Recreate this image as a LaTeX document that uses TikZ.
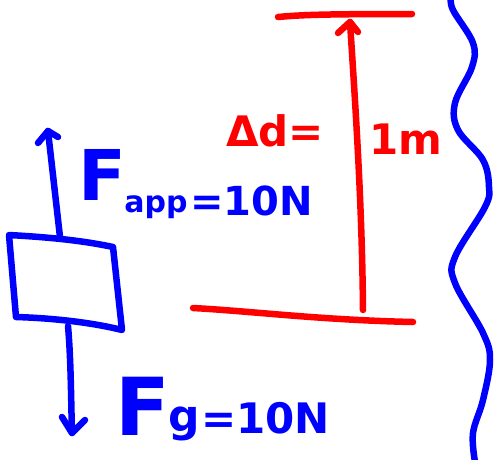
\documentclass[tikz,border=0pt]{standalone}
\usepackage{fontspec}
\setmainfont{DejaVu Sans}
\usetikzlibrary{calc}
\definecolor{penblue}{RGB}{0,0,255}
\definecolor{penred}{RGB}{255,0,0}
\begin{document}
\begin{tikzpicture}[x=1pt,y=-1pt,
  pen/.style={line width=6.5pt,line cap=round,line join=round},
  bluepen/.style={pen,draw=penblue},
  redpen/.style={pen,draw=penred},
  lbl/.style={inner sep=0pt,anchor=base west}]
\useasboundingbox (0,0) rectangle (499,459);
% block
\coordinate (b1) at (9,235);
\coordinate (b2) at (113,247);
\coordinate (b3) at (122,330);
\coordinate (b4) at (16,317);
\draw[bluepen] (b1) .. controls (45,237) and (80,240) .. (b2) -- (b3) .. controls (90,322) and (50,318) .. (b4) -- cycle;
% up arrow
\coordinate (upTail) at (60,237);
\coordinate (upTip) at (48,131);
\draw[bluepen] (upTail) -- (upTip);
\draw[bluepen] ($(upTip)+(-10,12)$) -- (upTip) -- ($(upTip)+(10,6)$);
% down arrow
\coordinate (dnTail) at (68,326);
\coordinate (dnTip) at (72,433);
\draw[bluepen] (dnTail) .. controls (71,360) and (71,400) .. (dnTip);
\draw[bluepen] ($(dnTip)+(-10,-16)$) -- (dnTip) -- ($(dnTip)+(13,-13)$);
% labels
\node[lbl,text=penblue,font=\bfseries\fontsize{70}{70}\selectfont] (fapp) at (78,200) {F};
\node[lbl,text=penblue,font=\bfseries\fontsize{30}{30}\selectfont] (app) at ($(fapp.base east)+(-2,12)$) {app};
\node[lbl,text=penblue,font=\bfseries\fontsize{40}{40}\selectfont] (eqa) at ($(app.base east)+(2,3)$) {=10N};
\node[lbl,text=penblue,font=\bfseries\fontsize{80}{80}\selectfont] (fg) at (115,435) {F};
\node[lbl,text=penblue,font=\bfseries\fontsize{44}{44}\selectfont] (g) at ($(fg.base east)+(-2,-4)$) {g};
\node[lbl,text=penblue,font=\bfseries\fontsize{42}{42}\selectfont] (eqg) at ($(g.base east)+(1,2)$) {=10N};
% red distance
\coordinate (tL) at (278,17);
\coordinate (tR) at (412,14);
\draw[redpen] (tL) .. controls (300,15) and (320,14) .. (tR);
\coordinate (bL) at (193,308);
\coordinate (bR) at (413,322);
\draw[redpen] (bL) .. controls (250,311) and (320,320) .. (bR);
\coordinate (rTail) at (363,310);
\coordinate (rTip) at (350,22);
\draw[redpen] (rTail) .. controls (362,200) and (355,100) .. (rTip);
\draw[redpen] ($(rTip)+(-12,11)$) -- (rTip) -- ($(rTip)+(8,10)$);
\node[lbl,text=penred,font=\bfseries\fontsize{42}{42}\selectfont] (dd) at (226,146) {Δd=};
\node[lbl,text=penred,font=\bfseries\fontsize{42}{42}\selectfont] (m) at (369,154) {1m};
% wavy line
\draw[bluepen] plot[smooth,tension=0.6] coordinates {(451,-3) (453,10) (473,43) (472,67) (455,103) (458,130) (483,160) (489,187) (485,207) (455,257) (455,283) (483,333) (490,360) (483,400) (473,433) (475,462)};
\end{tikzpicture}
\end{document}
